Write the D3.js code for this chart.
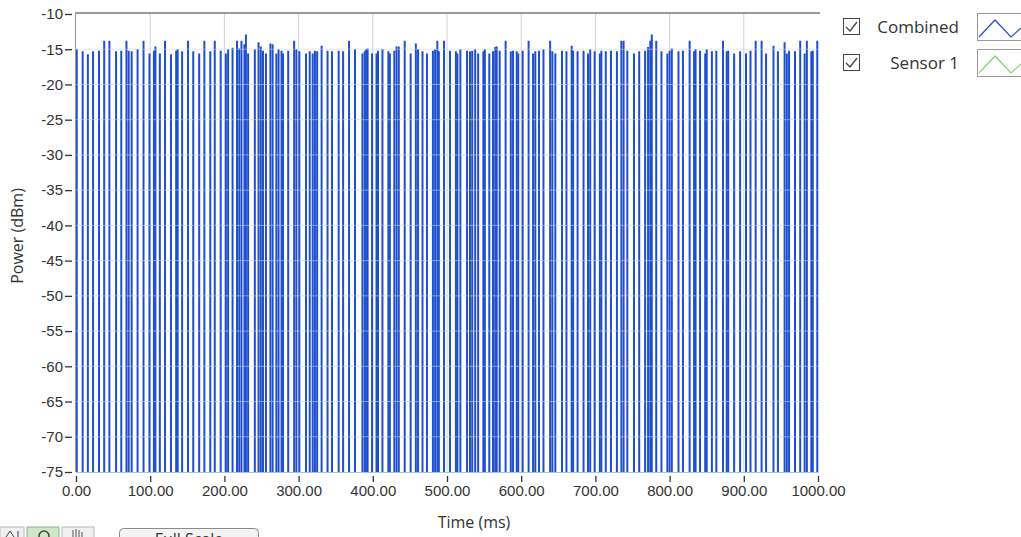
<!DOCTYPE html>
<html>
<head>
<meta charset="utf-8">
<script src="https://cdn.jsdelivr.net/npm/d3@7/dist/d3.min.js"></script>
<style>
  body { margin: 0; background: #ffffff; }
  svg { display: block; font-family: "Open Sans", "Noto Sans", sans-serif; }
</style>
</head>
<body>
<svg id="chart" width="1021" height="537"></svg>
<script>
// spike times (ms) and their peak power (dBm)
var spikeTimes = [
  1, 9, 16, 23, 31, 38, 45, 54, 61, 68, 71, 75, 83, 91, 99, 105, 107, 113, 120, 128,
  135, 137, 143, 151, 158, 166, 173, 181, 187, 195, 202, 205, 211, 217, 220, 223, 227, 229, 232,
  241, 246, 249, 252, 256, 262, 265, 270, 273, 277, 279, 286, 294, 297, 301, 310, 315, 319, 322,
  325, 331, 339, 345, 354, 360, 368, 376, 386, 389, 391, 393, 399, 405, 407, 413, 421, 423, 429,
  432, 435, 443, 451, 458, 461, 467, 473, 481, 484, 487, 489, 496, 504, 512, 514, 518, 527, 531,
  534, 538, 542, 549, 551, 557, 562, 565, 567, 571, 579, 586, 589, 594, 596, 602, 610, 616, 619,
  624, 630, 639, 642, 646, 655, 661, 668, 670, 676, 684, 690, 693, 699, 706, 708, 714, 721, 729,
  735, 738, 743, 752, 759, 767, 771, 774, 776, 782, 789, 797, 800, 803, 812, 818, 827, 833, 835,
  841, 848, 850, 857, 863, 872, 877, 879, 887, 895, 903, 909, 916, 924, 930, 940, 946, 955, 958,
  961, 969, 976, 982, 985, 991, 993, 999
];
var spikePeaks = [
  -15.0, -15.3, -15.7, -15.3, -15.2, -13.8, -13.8, -15.3, -15.2, -13.8, -15.2, -15.3, -15.0, -13.8, -15.6, -15.2, -14.6, -15.6, -13.8, -15.7,
  -15.2, -15.0, -15.3, -13.8, -15.3, -15.6, -13.8, -15.3, -13.8, -15.2, -15.6, -15.0, -14.8, -13.8, -14.9, -13.8, -14.3, -12.9, -15.6,
  -15.0, -14.0, -14.6, -15.2, -15.6, -14.2, -14.3, -15.6, -15.0, -15.2, -15.6, -15.2, -13.8, -15.0, -15.3, -15.6, -15.3, -15.6, -15.2,
  -15.3, -14.5, -15.2, -15.3, -15.2, -15.3, -13.8, -15.0, -15.6, -15.3, -15.0, -14.9, -15.6, -15.6, -15.2, -15.0, -15.3, -15.6, -15.2,
  -14.6, -14.6, -13.8, -15.6, -14.2, -15.0, -15.3, -15.6, -15.2, -15.0, -13.8, -15.3, -13.8, -15.2, -15.3, -15.6, -15.0, -15.2, -15.3,
  -15.2, -15.0, -15.6, -15.3, -15.0, -15.6, -15.3, -14.7, -14.6, -15.2, -13.8, -15.3, -15.2, -15.3, -15.6, -15.2, -13.8, -15.6, -15.3,
  -15.2, -15.0, -13.8, -15.3, -15.6, -15.2, -15.3, -14.5, -15.2, -15.3, -15.2, -15.6, -15.0, -15.3, -15.6, -15.2, -15.3, -15.2, -15.3,
  -13.8, -13.8, -15.2, -15.6, -15.3, -15.2, -14.7, -13.8, -12.9, -13.8, -15.3, -15.6, -15.2, -14.9, -15.3, -15.2, -13.8, -15.3, -15.0,
  -15.2, -15.6, -15.0, -15.3, -15.2, -13.8, -15.3, -15.2, -15.6, -15.3, -15.6, -15.2, -13.8, -13.8, -15.6, -14.5, -15.3, -14.0, -15.6,
  -15.2, -15.3, -13.8, -15.6, -13.8, -15.3, -15.2, -13.8
];
var yTicks = [-10, -15, -20, -25, -30, -35, -40, -45, -50, -55, -60, -65, -70, -75];
var xTicks = [0, 100, 200, 300, 400, 500, 600, 700, 800, 900, 1000];
var legendNames = ["Combined", "Sensor 1"];
var legendColors = ["#1f4fcf", "#7ed36a"];

function draw_chart(){
    var svg = d3.select("#chart");
    var pL = 76, pR = 818, pT = 14, pB = 472;

    var x = d3.scaleLinear().domain([0, 1000]).range([pL, pR]);
    var y = d3.scaleLinear().domain([-75, -10]).range([pB, pT]);

    svg.append("defs").append("clipPath").attr("id", "plotclip")
       .append("rect").attr("x", pL - 1).attr("y", pT).attr("width", pR - pL + 2).attr("height", pB - pT);

    svg.append("rect").attr("x", pL).attr("y", pT).attr("width", pR - pL).attr("height", pB - pT)
       .attr("fill", "#ffffff");

    // vertical grid
    svg.append("g").selectAll("line")
       .data(xTicks.slice(1, -1))
       .enter().append("line")
       .attr("x1", function(d){ return x(d); }).attr("x2", function(d){ return x(d); })
       .attr("y1", pT).attr("y2", pB)
       .attr("stroke", "#d2d2d2").attr("stroke-width", 1);

    // spikes
    svg.append("g").attr("clip-path", "url(#plotclip)").selectAll("line")
       .data(spikeTimes)
       .enter().append("line")
       .attr("x1", function(d){ return x(d); }).attr("x2", function(d){ return x(d); })
       .attr("y1", y(-75))
       .attr("y2", function(d, i){ return y(spikePeaks[i]); })
       .attr("stroke", "#1f4fcf").attr("stroke-width", 2);

    // horizontal grid, faint over the trace
    svg.append("g").selectAll("line")
       .data(yTicks.slice(1, -1))
       .enter().append("line")
       .attr("x1", pL).attr("x2", pR)
       .attr("y1", function(d){ return y(d); }).attr("y2", function(d){ return y(d); })
       .attr("stroke", "#c8d6ee").attr("stroke-opacity", 0.55).attr("stroke-width", 1);

    // frame
    svg.append("line").attr("x1", pL - 1).attr("x2", pR + 2).attr("y1", pT - 1).attr("y2", pT - 1)
       .attr("stroke", "#9a9a9a").attr("stroke-width", 2);
    svg.append("line").attr("x1", pL - 0.5).attr("x2", pL - 0.5).attr("y1", pT - 1).attr("y2", pB)
       .attr("stroke", "#9a9a9a").attr("stroke-width", 1);
    svg.append("line").attr("x1", pL).attr("x2", pR + 1).attr("y1", pB + 0.5).attr("y2", pB + 0.5)
       .attr("stroke", "#a9c3ee").attr("stroke-width", 1);

    // axes
    var yAxis = svg.append("g").attr("transform", "translate(72,0)")
       .call(d3.axisLeft(y).tickValues(yTicks).tickSizeInner(7).tickSizeOuter(0).tickPadding(2)
             .tickFormat(function(d){ return d; }));
    yAxis.select(".domain").remove();
    yAxis.selectAll("line").attr("stroke", "#333").attr("stroke-width", 1.3);
    yAxis.selectAll("text").style("font-size", "15px").attr("fill", "#333");

    var xAxis = svg.append("g").attr("transform", "translate(0,476)")
       .call(d3.axisBottom(x).tickValues(xTicks).tickSizeInner(6).tickSizeOuter(0).tickPadding(3)
             .tickFormat(d3.format(".2f")));
    xAxis.select(".domain").remove();
    xAxis.selectAll("line").attr("stroke", "#333").attr("stroke-width", 1.3);
    xAxis.selectAll("text").style("font-size", "15px").attr("fill", "#333");

    svg.append("text").attr("x", 474).attr("y", 528).attr("text-anchor", "middle")
       .style("font-size", "16px").attr("fill", "#333").text("Time (ms)");
    svg.append("text").attr("transform", "translate(23,236) rotate(-90)").attr("text-anchor", "middle")
       .style("font-size", "16px").attr("fill", "#333").text("Power (dBm)");

    // legend
    var leg = svg.append("g");
    legendNames.forEach(function(name, i){
        var cy = 27 + i * 36;
        leg.append("rect").attr("x", 843.5).attr("y", cy - 8.5).attr("width", 16).attr("height", 16)
           .attr("fill", "#fff").attr("stroke", "#444").attr("stroke-width", 1);
        leg.append("path").attr("d", "M846," + cy + " L850," + (cy + 4) + " L857," + (cy - 5))
           .attr("fill", "none").attr("stroke", "#444").attr("stroke-width", 1.3);
        leg.append("text").attr("x", 959).attr("y", cy + 6).attr("text-anchor", "end")
           .style("font-size", "17px").attr("fill", "#333").text(name);
        leg.append("rect").attr("x", 977.5).attr("y", cy - 13.5).attr("width", 50).attr("height", 27)
           .attr("fill", "#fff").attr("stroke", "#9a9a9a").attr("stroke-width", 1);
        leg.append("path").attr("d", "M979," + (cy + 10) + " L995," + (cy - 7) + " L1011," + (cy + 10) + " L1021," + (cy + 1))
           .attr("fill", "none").attr("stroke", legendColors[i]).attr("stroke-width", 1.2);
    });

    // graph palette tools, cut off at the bottom
    var tools = svg.append("g");
    tools.append("rect").attr("x", 0).attr("y", 527).attr("width", 24).attr("height", 14).attr("fill", "#f0f0f0").attr("stroke", "#bbb");
    tools.append("path").attr("d", "M6,537 L10,531 L14,537 M18,531 L18,537").attr("stroke", "#444").attr("fill", "none");
    tools.append("rect").attr("x", 27).attr("y", 527).attr("width", 32).attr("height", 14).attr("fill", "#cfe6c8").attr("stroke", "#8bb48a");
    tools.append("circle").attr("cx", 44).attr("cy", 536).attr("r", 5).attr("fill", "none").attr("stroke", "#444").attr("stroke-width", 1.5);
    tools.append("rect").attr("x", 62).attr("y", 527).attr("width", 32).attr("height", 14).attr("fill", "#f0f0f0").attr("stroke", "#bbb");
    tools.append("path").attr("d", "M73,537 L73,530 M76,537 L76,529 M79,537 L79,530 M82,537 L82,532").attr("stroke", "#555").attr("fill", "none");
    tools.append("rect").attr("x", 119.5).attr("y", 528.5).attr("width", 139).attr("height", 24).attr("rx", 4)
       .attr("fill", "#f3f3f3").attr("stroke", "#8a8a8a");
    tools.append("text").attr("x", 189).attr("y", 545).attr("text-anchor", "middle")
       .style("font-size", "16px").attr("fill", "#333").text("Full Scale");
}

draw_chart();
</script>
</body>
</html>
